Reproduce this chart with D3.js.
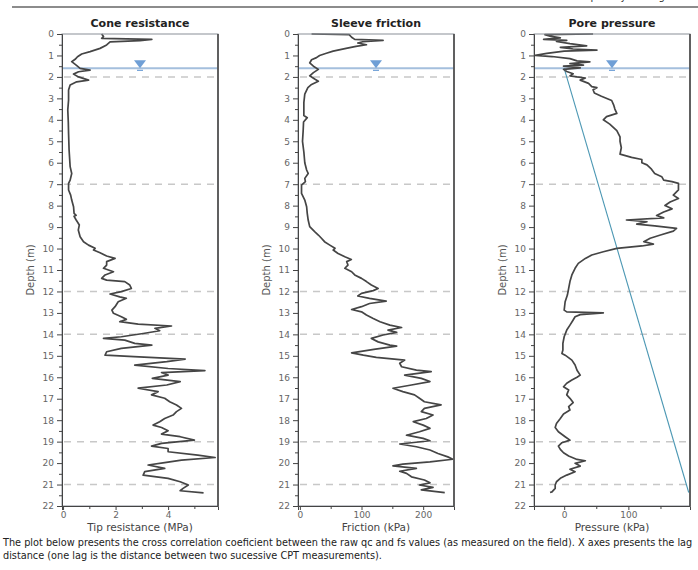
<!DOCTYPE html>
<html>
<head>
<meta charset="utf-8">
<script src="https://cdn.jsdelivr.net/npm/d3@7"></script>
<style>
    body { margin: 0; background: #fff; }
    svg text { font-family: "DejaVu Sans", Verdana, sans-serif; }
    .axis path, .axis line { stroke: #444; }
    .axis text { fill: #666; font-size: 9px; }
</style>
</head>
<body>
<svg id="chart" width="698" height="570"></svg>
<script>
// Cone resistance qc (MPa) over depth (m)
const coneDepth = [0, 0.12, 0.2, 0.25, 0.31, 0.37, 0.51, 0.67, 0.82, 0.93, 1.06, 1.18, 1.29, 1.45, 1.6, 1.68, 1.76, 1.87, 2.0, 2.15,
    2.23, 2.38, 2.61, 3.08, 3.54, 4.1, 4.63, 5.41, 6.18, 6.5, 6.81, 6.96, 7.27, 7.51, 7.74, 8.05, 8.36, 8.45, 8.5, 8.67,
    8.9, 9.14, 9.45, 9.68, 9.84, 9.99, 10.07, 10.2, 10.35, 10.46, 10.61, 10.77, 10.92, 11.08, 11.23, 11.39, 11.47, 11.54, 11.7, 11.86,
    12.01, 12.12, 12.25, 12.32, 12.48, 12.71, 12.87, 13.02, 13.18, 13.3, 13.41, 13.52, 13.61, 13.72, 13.83, 13.96, 14.11, 14.19, 14.27, 14.42,
    14.5, 14.65, 14.81, 14.97, 15.04, 15.15, 15.27, 15.43, 15.59, 15.69, 15.78, 15.9, 16.05, 16.2, 16.36, 16.51, 16.67, 16.82, 16.98, 17.14,
    17.29, 17.45, 17.6, 17.76, 17.92, 18.07, 18.23, 18.34, 18.49, 18.65, 18.77, 18.93, 19.08, 19.21, 19.32, 19.47, 19.63, 19.74, 19.86, 19.98,
    20.09, 20.25, 20.4, 20.56, 20.71, 20.87, 21.02, 21.18, 21.29, 21.39];
const coneQc = [1.47, 1.54, 1.47, 3.38, 2.93, 1.79, 1.66, 1.41, 1.03, 0.71, 0.55, 0.46, 0.33, 0.5, 0.65, 1.03, 0.59, 0.4, 0.59, 0.97,
    0.52, 0.27, 0.21, 0.21, 0.18, 0.2, 0.21, 0.23, 0.27, 0.33, 0.27, 0.21, 0.21, 0.29, 0.33, 0.4, 0.42, 0.5, 0.42, 0.5,
    0.62, 0.58, 0.65, 0.78, 0.97, 1.22, 1.16, 1.41, 1.66, 1.98, 1.66, 1.66, 1.54, 1.92, 1.6, 1.47, 1.66, 2.35, 2.54, 2.6,
    2.22, 1.79, 2.16, 2.41, 2.1, 1.98, 1.86, 1.92, 2.22, 2.41, 2.16, 2.86, 4.13, 3.5, 3.68, 3.05, 2.22, 1.54, 2.35, 2.73,
    3.38, 2.22, 1.66, 1.6, 2.7, 4.65, 3.95, 2.73, 4.0, 5.4, 3.75, 4.0, 3.4, 4.46, 3.95, 2.86, 3.62, 3.37, 3.87, 4.06,
    4.32, 4.51, 4.32, 4.19, 3.87, 3.68, 3.43, 3.75, 4.0, 3.75, 4.46, 5.0, 3.75, 3.37, 4.0, 4.0, 5.13, 5.79, 4.51, 3.87,
    3.24, 3.87, 3.11, 3.05, 4.0, 4.46, 4.77, 4.57, 4.46, 5.35];

// Sleeve friction fs (kPa) over depth (m)
const sleeveDepth = [0, 0.03, 0.15, 0.25, 0.3, 0.36, 0.42, 0.5, 0.58, 0.67, 0.8, 0.9, 1.0, 1.1, 1.2, 1.35, 1.5, 1.65, 1.8, 1.95,
    2.1, 2.2, 2.35, 2.5, 2.8, 3.2, 3.8, 3.9, 4.1, 4.5, 5.0, 5.5, 6.0, 6.34, 6.5, 6.73, 6.88, 7.04, 7.43, 7.74,
    8.05, 8.36, 8.67, 8.98, 9.21, 9.37, 9.52, 9.68, 9.84, 9.99, 10.07, 10.23, 10.38, 10.51, 10.61, 10.77, 10.92, 11.08, 11.23, 11.39,
    11.54, 11.7, 11.86, 11.96, 12.09, 12.21, 12.32, 12.45, 12.56, 12.71, 12.84, 12.95, 13.1, 13.26, 13.41, 13.57, 13.68, 13.8, 13.91, 14.03,
    14.19, 14.35, 14.5, 14.55, 14.7, 14.86, 14.97, 15.07, 15.2, 15.35, 15.51, 15.67, 15.74, 15.9, 16.05, 16.2, 16.36, 16.51, 16.67, 16.82,
    16.98, 17.14, 17.29, 17.45, 17.6, 17.76, 17.92, 18.07, 18.23, 18.38, 18.54, 18.7, 18.85, 18.96, 19.11, 19.24, 19.39, 19.55, 19.71, 19.82,
    19.94, 20.05, 20.13, 20.25, 20.38, 20.48, 20.64, 20.79, 20.92, 21.02, 21.13, 21.25, 21.38];
const sleeveFs = [19, 80, 84, 89, 135, 102, 94, 108, 91, 75, 54, 43, 32, 27, 19, 16, 22, 30, 22, 16,
    24, 30, 19, 13, 8, 6.5, 6.5, 12, 6, 5.4, 4.3, 6.5, 8, 11, 13.5, 8, 9, 2.7, 2.7, 8,
    11, 12, 13.5, 16, 24, 30, 35, 40, 48.6, 57, 54, 62, 73, 83.5, 76, 78, 73, 84, 89, 100,
    108, 116, 127, 119, 100, 94, 113, 140, 113, 100, 84, 100, 108, 119, 130, 146, 165, 143, 157, 135,
    116, 127, 146, 157, 120, 84, 103, 124, 170, 162, 165, 189, 213, 170, 197, 211, 181, 151, 167, 186,
    194, 202, 229, 202, 197, 216, 205, 184, 200, 211, 194, 173, 200, 211, 162, 189, 211, 224, 240, 248,
    211, 167, 151, 189, 162, 173, 181, 202, 211, 194, 216, 197, 235];

// Pore pressure u2 (kPa) over depth (m)
const poreDepth = [0.0, 0.03, 0.1, 0.18, 0.25, 0.3, 0.35, 0.45, 0.55, 0.62, 0.7, 0.75, 0.8, 0.9, 1.0, 1.05, 1.15, 1.25, 1.3, 1.38,
    1.45, 1.5, 1.58, 1.65, 1.75, 1.85, 1.95, 2.0, 2.05, 2.15, 2.3, 2.45, 2.5, 2.6, 2.75, 2.9, 3.1, 3.3, 3.5, 3.7,
    3.85, 4.0, 4.2, 4.5, 4.8, 5.0, 5.3, 5.6, 5.75, 5.85, 6.0, 6.1, 6.3, 6.5, 6.65, 6.81, 6.88, 6.96, 7.27, 7.51,
    7.67, 7.83, 7.99, 8.15, 8.3, 8.46, 8.57, 8.67, 8.75, 8.86, 8.94, 9.06, 9.19, 9.37, 9.52, 9.68, 9.79, 9.88, 9.99, 10.15,
    10.3, 10.46, 10.69, 10.92, 11.23, 11.54, 11.86, 12.17, 12.48, 12.87, 12.95, 13.0, 13.08, 13.18, 13.33, 13.57, 13.8, 14.11, 14.42, 14.73,
    14.89, 14.97, 15.2, 15.43, 15.67, 15.9, 16.0, 16.13, 16.28, 16.44, 16.59, 16.82, 16.98, 17.18, 17.37, 17.53, 17.71, 17.92, 18.15, 18.34,
    18.54, 18.77, 18.93, 19.05, 19.21, 19.36, 19.52, 19.67, 19.83, 19.89, 20.01, 20.14, 20.29, 20.4, 20.56, 20.71, 20.87, 21.02, 21.18, 21.34,
    21.37];
const poreU = [45, -30, -22, -6, -32, 4, -12, 9, 35, -6, 14, 51, 0, -27, -45, -19, 9, 20, 40, 9,
    30, -1, 25, -1, 4, 14, 9, 20, 33, 25, 38, 43, 51, 45, 47, 58, 74, 77, 79, 82,
    66, 61, 71, 82, 87, 87, 89, 87, 105, 121, 121, 129, 136, 141, 152, 155, 168, 178, 178, 170,
    178, 165, 157, 168, 155, 144, 155, 97, 129, 113, 141, 175, 170, 150, 134, 124, 139, 121, 82, 61,
    43, 33, 22, 17, 12, 9, 7, 5, 1.5, 0, 4, 61, 25, 17, 14, 9, 4, 0, -2, -2,
    -3.5, 1.5, 12, 17, 20, 25, 20, 12, 4, -1, 7, 4, 9, 14, 7, 9, -1, -6, -12, -14,
    -9, 1.5, 9, -3.5, -9, -6, -1, 7, 20, 33, 17, 25, 9, 17, 4, -6, -12, -14, -14, -19,
    -22];

// Hydrostatic pressure line (starts at the water table)
const hydroDepth = [1.6, 21.37];
const hydroU = [0, 194];

const waterTableDepth = 1.6;
const dashedDepths = [2, 7, 12, 14, 19, 21];
const depthTicks = d3.range(0, 23, 1);
const depthMinorTicks = d3.range(0.5, 22, 1);

const panelTitles = ['Cone resistance', 'Sleeve friction', 'Pore pressure'];
const xLabels = ['Tip resistance (MPa)', 'Friction (kPa)', 'Pressure (kPa)'];
const xMajorTicks = [[0, 2, 4], [0, 100, 200], [0, 100]];
const xMinorTicks = [[1, 3, 5], [50, 150], [50, 150]];

const caption = [
    'The plot below presents the cross correlation coeficient between the raw qc and fs values (as measured on the field). X axes presents the lag',
    'distance (one lag is the distance between two sucessive CPT measurements).'
];

const svg = d3.select('#chart');
const plotTop = 34, plotBottom = 506;

const yScale = d3.scaleLinear().domain([0, 22]).range([plotTop, plotBottom]);

/**
 * One CPT panel: frame, reference lines, profile, axes
 */
function drawPanel(i, left, right, domain, depth, values, extra) {
    const xScale = d3.scaleLinear().domain(domain).range([left, right]);
    const g = svg.append('g');

    // dashed layer lines
    g.selectAll('.layer')
        .data(dashedDepths)
        .enter()
        .append('line')
        .attr('x1', left + 2)
        .attr('x2', right)
        .attr('y1', d => yScale(d))
        .attr('y2', d => yScale(d))
        .style('stroke', '#c8c8c8')
        .style('stroke-width', 1.5)
        .style('stroke-dasharray', '7,6');

    // water table
    const wy = yScale(waterTableDepth);
    g.append('line')
        .attr('x1', left)
        .attr('x2', right)
        .attr('y1', wy)
        .attr('y2', wy)
        .style('stroke', '#a4bfdd')
        .style('stroke-width', 2);

    const cx = (left + right) / 2;
    g.append('path')
        .attr('d', `M${cx - 6},${wy - 8}L${cx + 6},${wy - 8}L${cx},${wy}Z`)
        .style('fill', '#6f9fd6');
    g.append('line')
        .attr('x1', cx - 3).attr('x2', cx + 3)
        .attr('y1', wy + 2).attr('y2', wy + 2)
        .style('stroke', '#6f9fd6')
        .style('stroke-width', 1.2);

    if (extra) {
        const hline = d3.line()
            .x((d, k) => xScale(extra.values[k]))
            .y(d => yScale(d));
        g.append('path')
            .datum(extra.depth)
            .attr('d', hline)
            .style('fill', 'none')
            .style('stroke', '#4b97b3')
            .style('stroke-width', 1.1);
    }

    // profile
    const line = d3.line()
        .x((d, k) => xScale(values[k]))
        .y(d => yScale(d));
    g.append('path')
        .datum(depth)
        .attr('d', line)
        .style('fill', 'none')
        .style('stroke', '#454545')
        .style('stroke-width', 1.7)
        .style('stroke-linejoin', 'round');

    // frame
    g.append('rect')
        .attr('x', left)
        .attr('y', plotTop)
        .attr('width', right - left)
        .attr('height', plotBottom - plotTop)
        .style('fill', 'none')
        .style('stroke', '#8a8f98')
        .style('stroke-width', 1);
    g.append('line')
        .attr('x1', right).attr('x2', right)
        .attr('y1', plotTop).attr('y2', plotBottom)
        .style('stroke', '#555')
        .style('stroke-width', 1.8);

    // axes
    g.append('g')
        .attr('class', 'axis')
        .attr('transform', `translate(${left},0)`)
        .call(d3.axisLeft(yScale).tickValues(depthTicks).tickSize(5).tickPadding(3).tickFormat(d3.format('d')));
    g.append('g')
        .attr('class', 'axis')
        .attr('transform', `translate(${left},0)`)
        .call(d3.axisLeft(yScale).tickValues(depthMinorTicks).tickSize(3).tickFormat(''))
        .select('.domain').remove();

    g.append('g')
        .attr('class', 'axis')
        .attr('transform', `translate(0,${plotBottom})`)
        .call(d3.axisBottom(xScale).tickValues(xMajorTicks[i]).tickSize(4).tickPadding(2).tickFormat(d3.format('d')));
    g.append('g')
        .attr('class', 'axis')
        .attr('transform', `translate(0,${plotBottom})`)
        .call(d3.axisBottom(xScale).tickValues(xMinorTicks[i]).tickSize(3).tickFormat(''))
        .select('.domain').remove();

    // titles
    g.append('text')
        .attr('x', cx)
        .attr('y', 27)
        .attr('text-anchor', 'middle')
        .style('font-size', '11px')
        .style('font-weight', 'bold')
        .style('fill', '#222')
        .text(panelTitles[i]);

    g.append('text')
        .attr('x', cx)
        .attr('y', 531)
        .attr('text-anchor', 'middle')
        .style('font-size', '10.5px')
        .style('fill', '#444')
        .text(xLabels[i]);

    g.append('text')
        .attr('transform', 'rotate(-90)')
        .attr('x', -(plotTop + plotBottom) / 2)
        .attr('y', left - 28)
        .attr('text-anchor', 'middle')
        .style('font-size', '10px')
        .style('fill', '#555')
        .text('Depth (m)');
}

// header rule (text above is cut off by the page edge)
svg.append('text')
    .attr('x', 694)
    .attr('y', 0)
    .attr('text-anchor', 'end')
    .style('font-size', '10px')
    .style('fill', '#333')
    .text('CPT report by Geologismiki');
svg.append('line')
    .attr('x1', 12).attr('x2', 698)
    .attr('y1', 7).attr('y2', 7)
    .style('stroke', '#666')
    .style('stroke-width', 1.5);

drawPanel(0, 62, 218, [-0.04, 5.9], coneDepth, coneQc);
drawPanel(1, 298, 454, [-3, 250], sleeveDepth, sleeveFs);
drawPanel(2, 534, 690, [-47, 196], poreDepth, poreU, { depth: hydroDepth, values: hydroU });

// caption under the plots
const cap = svg.append('g');
caption.forEach((t, k) => {
    cap.append('text')
        .attr('x', 3)
        .attr('y', 546 + k * 13)
        .style('font-size', '9px')
        .style('fill', '#222')
        .text(t);
});
// fit the first line to the page width
const first = cap.select('text').node();
const capSize = 9 * 690 / first.getComputedTextLength();
cap.selectAll('text').style('font-size', capSize + 'px');
</script>
</body>
</html>
